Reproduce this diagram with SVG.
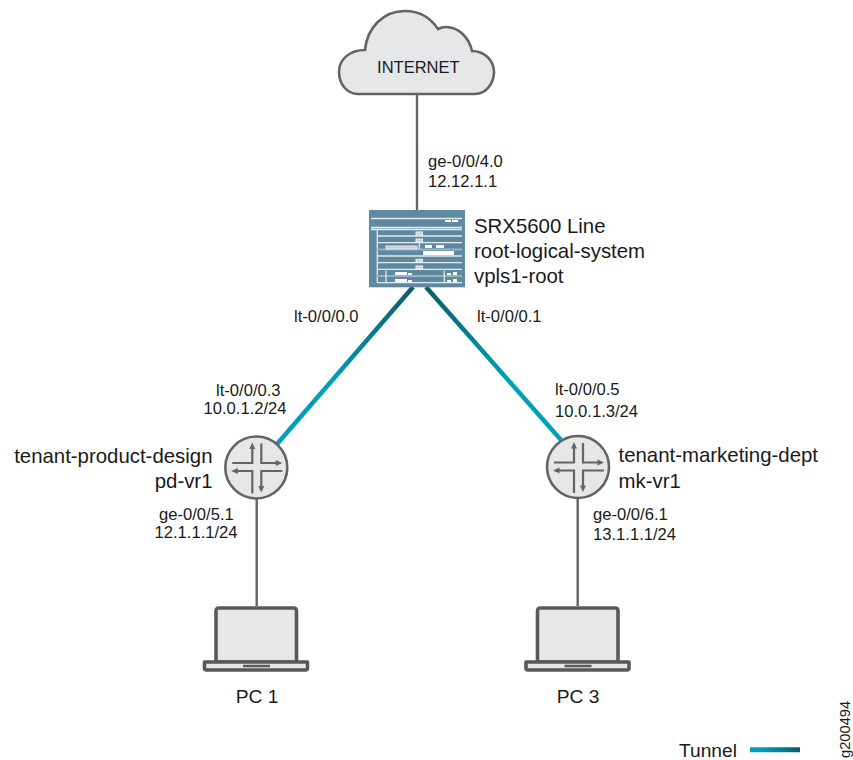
<svg xmlns="http://www.w3.org/2000/svg" width="853" height="760" viewBox="0 0 853 760">
<style>
text{font-family:"Liberation Sans",Arial,sans-serif;fill:#1a1a1a}
.s{font-size:16.6px}.l{font-size:20.4px}.p{font-size:19.2px}
.e{text-anchor:end}.m{text-anchor:middle}
.wire{stroke:#636466;stroke-width:2.4;fill:none}
.dev{fill:#e6e7e8;stroke:#636466;stroke-width:2.6}
.arr{stroke:#636466;stroke-width:2.2;fill:none}
.hd{fill:#636466}
.lap{fill:#e6e7e8;stroke:#58595b;stroke-width:3.6;stroke-linejoin:round}
.w{stroke:#e4eaee;stroke-width:1.3;fill:none}
.wf{fill:#fff}
</style>
<defs>
<linearGradient id="t1" gradientUnits="userSpaceOnUse" x1="277" y1="444" x2="413" y2="287"><stop offset="0.4" stop-color="#00a0b8"/><stop offset="1" stop-color="#0b5a68"/></linearGradient>
<linearGradient id="t2" gradientUnits="userSpaceOnUse" x1="561" y1="440" x2="426" y2="287"><stop offset="0.4" stop-color="#00a0b8"/><stop offset="1" stop-color="#0b5a68"/></linearGradient>
<linearGradient id="t3" gradientUnits="userSpaceOnUse" x1="750" y1="0" x2="800" y2="0"><stop offset="0.25" stop-color="#00a0b8"/><stop offset="1" stop-color="#0b5a68"/></linearGradient>
<g id="router">
<circle r="31" class="dev"/>
<path class="arr" d="M-4-20V-4.500H-24M5-24V-4.500H21M-20 3.500H-4V26M5 20V3.500H26"/>
<path class="hd" d="M-4-25L-7-18.500H-1ZM26-4.500L19.500-7.500V-1.500ZM-25 3.500L-18.500 .5V6.500ZM5 25L2 18.500H8Z"/>
</g>
<g id="laptop">
<path class="lap" d="M-40.500 56V5Q-40.500 2-37.500 2H37Q40 2 40 5V56Z"/>
<path class="lap" d="M-52 56H51V62Q51 64 49 64H-50Q-52 64-52 62Z"/>
<path d="M-13.500 60H13.500" stroke="#58595b" stroke-width="2.500"/>
</g>
</defs>
<g id="connectors">
<path class="wire" d="M417 94V210"/>
<path class="wire" d="M256.700 499V606"/>
<path class="wire" d="M577.700 498V606"/>
<path d="M277 444L413 287" stroke="url(#t1)" stroke-width="4.500" fill="none"/>
<path d="M561 440L426 287" stroke="url(#t2)" stroke-width="4.500" fill="none"/>
<path d="M750 749.700H800" stroke="url(#t3)" stroke-width="5"/>
</g>
<g id="internet">
<path class="dev" d="M358 94H475C487 94 494 82 494 72C494 60 484 51 472 51C469 37 458 27 446 27C443 27 440 28 438 29C430 17 418 11 405 11C383 11 367 28 365 50C350 50 339 59 339 72C339 84 347 94 358 94Z"/>
<text x="418.300" y="73" class="m" style="font-size:16.500px">INTERNET</text>
</g>
<g id="srx">
<rect x="369" y="210" width="96" height="77.300" fill="#5f88a1"/>
<path class="w" d="M371 218.500H462M371 227.500H462M371 229.500H462M377.300 230V283M377 236H462M377 242.700H462M377 256H462M377 262.700H462M377 269.300H462M377 282.700H462"/>
<path d="M377 249.500H462M377 276H462" stroke="#9ab2c0" stroke-width="2"/>
<path class="w" d="M386 270.700V283M444.300 270.700V283M419.300 243V249"/>
<rect x="386" y="246" width="31" height="3" fill="#c4d0d8" stroke="#e6ecef"/>
<g class="wf"><rect x="445" y="220" width="6" height="2"/><rect x="452" y="220" width="6" height="2"/><rect x="425" y="245" width="7" height="3"/><rect x="436" y="245" width="8" height="3"/><rect x="423" y="251" width="31" height="4"/><rect x="395" y="272" width="12" height="3"/><rect x="395" y="279" width="12" height="3"/><rect x="408" y="273" width="4" height="2"/><rect x="408" y="280" width="4" height="2"/><rect x="447" y="273" width="4" height="2"/><rect x="447" y="280" width="4" height="2"/><rect x="453" y="272" width="4" height="3"/><rect x="453" y="279" width="4" height="3"/></g>
<g fill="#c4d0d8" stroke="#eef2f4"><rect x="416" y="232" width="6.500" height="3"/><rect x="416" y="239" width="6.500" height="2.700"/><rect x="416" y="259.300" width="6.500" height="2.700"/><rect x="416" y="266" width="6.500" height="2.700"/></g>
<text x="474" y="233" class="l">SRX5600 Line</text>
<text x="474" y="258" class="l">root-logical-system</text>
<text x="474" y="283" class="l">vpls1-root</text>
</g>
<g id="pd-vr1">
<use href="#router" x="256.300" y="467.500"/>
<text x="212.500" y="463" class="l e">tenant-product-design</text>
<text x="212.500" y="488" class="l e">pd-vr1</text>
</g>
<g id="mk-vr1">
<use href="#router" x="578" y="467"/>
<text x="618.500" y="462" class="l">tenant-marketing-dept</text>
<text x="618.500" y="488" class="l">mk-vr1</text>
</g>
<g id="pc1">
<use href="#laptop" x="256.500" y="606"/>
<text x="257" y="703" class="p m">PC 1</text>
</g>
<g id="pc3">
<use href="#laptop" x="578" y="606"/>
<text x="578" y="703" class="p m">PC 3</text>
</g>
<g id="labels">
<text x="428" y="167" class="s">ge-0/0/4.0</text>
<text x="428" y="187" class="s">12.12.1.1</text>
<text x="294" y="322" class="s">lt-0/0/0.0</text>
<text x="477" y="322" class="s">lt-0/0/0.1</text>
<text x="216" y="396" class="s">lt-0/0/0.3</text>
<text x="203.500" y="414" class="s">10.0.1.2/24</text>
<text x="555" y="395" class="s">lt-0/0/0.5</text>
<text x="555" y="416.500" class="s">10.0.1.3/24</text>
<text x="159" y="520" class="s">ge-0/0/5.1</text>
<text x="154.500" y="538" class="s">12.1.1.1/24</text>
<text x="593" y="520" class="s">ge-0/0/6.1</text>
<text x="593" y="540" class="s">13.1.1.1/24</text>
<text x="679" y="756.500" class="p">Tunnel</text>
<text transform="translate(849.500 758) rotate(-90)" style="font-size:14.700px">g200494</text>
</g>
</svg>
